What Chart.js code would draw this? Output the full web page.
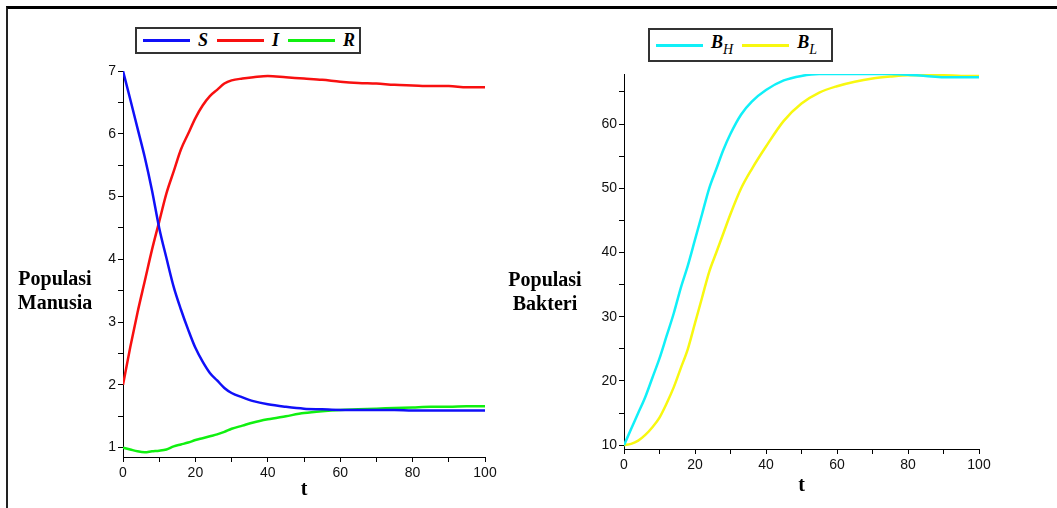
<!DOCTYPE html>
<html>
<head>
<meta charset="utf-8">
<script src="https://cdn.jsdelivr.net/npm/chart.js@4/dist/chart.umd.min.js"></script>
<style>
  body { margin: 0; background: #fff; width: 1057px; height: 508px; overflow: hidden; position: relative; }
  #frame { position: absolute; left: 6px; top: 6px; width: 1060px; height: 510px; border-top: 3px solid #000; border-left: 2px solid #222; }
  canvas { position: absolute; top: 0; }
  #left { left: 0; }
  #right { left: 495px; }
  .legend { position: absolute; border: 2px solid #333; background: #fff; display: flex; align-items: center;
            font: italic bold 18px "Liberation Serif", serif; box-sizing: border-box; padding-left: 6px; }
  .legend .item { display: flex; align-items: center; margin-right: 9px; }
  .legend .swatch { width: 47px; height: 3px; margin-right: 8px; }
  .legend sub { font-size: 14px; font-weight: normal; vertical-align: -6px; }
</style>
</head>
<body>
<div id="frame"></div>
<canvas id="left" width="510" height="508"></canvas>
<canvas id="right" width="562" height="508"></canvas>
<div class="legend" id="legendLeft" style="left:135px;top:27px;width:226px;height:27px;"></div>
<div class="legend" id="legendRight" style="left:648px;top:28px;width:185px;height:34px;"></div>
<script>
const tValues = [0, 2, 4, 6, 8, 10, 12, 14, 16, 18, 20, 22, 24, 26, 28, 30, 33, 36, 40, 45, 50, 55, 60, 65, 70, 75, 80, 85, 90, 95, 100]

// populasi manusia
const sValues = [7, 6.55, 6.09, 5.63, 5.1, 4.5, 4.02, 3.56, 3.2, 2.88, 2.59, 2.37, 2.19, 2.07, 1.95, 1.87, 1.8, 1.74, 1.69, 1.65, 1.62, 1.61, 1.6, 1.6, 1.6, 1.6, 1.59, 1.59, 1.59, 1.59, 1.59]
const iValues = [2.0, 2.6, 3.15, 3.65, 4.15, 4.6, 5.05, 5.4, 5.75, 6.0, 6.25, 6.45, 6.6, 6.7, 6.8, 6.85, 6.88, 6.9, 6.92, 6.9, 6.88, 6.86, 6.83, 6.81, 6.8, 6.78, 6.77, 6.76, 6.76, 6.74, 6.74]
const rValues = [1.0, 0.97, 0.94, 0.925, 0.94, 0.95, 0.97, 1.02, 1.05, 1.08, 1.12, 1.15, 1.18, 1.21, 1.25, 1.3, 1.35, 1.4, 1.45, 1.5, 1.55, 1.58, 1.6, 1.61, 1.62, 1.63, 1.64, 1.65, 1.65, 1.66, 1.66]

// populasi bakteri
const bhValues = [10, 12.5, 15, 17.5, 20.5, 23.5, 27, 30.5, 34.5, 38, 42, 46, 50, 53, 56, 58.5, 61.5, 63.5, 65.3, 66.8, 67.5, 67.8, 67.8, 67.8, 67.8, 67.8, 67.7, 67.5, 67.3, 67.3, 67.3]
const blValues = [10, 10.2, 10.7, 11.6, 12.8, 14.3, 16.5, 19, 22, 25, 29, 33, 37, 40, 43, 46, 50, 53, 56.5, 60.5, 63.2, 64.9, 65.9, 66.6, 67.1, 67.4, 67.6, 67.6, 67.6, 67.5, 67.5]

// tick positions (labelled + minor)
const xTicks = [0, 10, 20, 30, 40, 50, 60, 70, 80, 90, 100]
const xLabels = [0, 20, 40, 60, 80, 100]
const manusiaTicks = [1, 1.5, 2, 2.5, 3, 3.5, 4, 4.5, 5, 5.5, 6, 6.5, 7]
const manusiaLabels = [1, 2, 3, 4, 5, 6, 7]
const bakteriTicks = [10, 15, 20, 25, 30, 35, 40, 45, 50, 55, 60, 65]
const bakteriLabels = [10, 20, 30, 40, 50, 60]

const toPoints = vals => tValues.map((t, i) => ({ x: t, y: vals[i] }))

function line(label, vals, color){
    return {
        label,
        data: toPoints(vals),
        borderColor: color,
        backgroundColor: color,
        borderWidth: 2.5,
        pointRadius: 0,
        cubicInterpolationMode: 'monotone'
    }
}

// y-axis label drawn horizontally like the original
const sideLabel = {
    id: 'sideLabel',
    afterDraw(chart, args, opts){
        const ctx = chart.ctx
        ctx.save()
        ctx.font = 'bold 20px "Liberation Serif", serif'
        ctx.fillStyle = '#000'
        ctx.textAlign = 'center'
        ctx.textBaseline = 'middle'
        opts.lines.forEach((txt, i) => ctx.fillText(txt, opts.x, opts.y + i * 24))
        ctx.restore()
    }
}

function makeChart(id, datasets, cfg){
    const ctx = document.getElementById(id)
    return new Chart(ctx, {
        type: 'line',
        data: { datasets },
        options: {
            responsive: false,
            animation: false,
            layout: { padding: { left: 0, top: cfg.top, right: cfg.right, bottom: 0 } },
            scales: {
                x: {
                    type: 'linear',
                    min: 0, max: 100,
                    afterFit: s => { s.height = cfg.xHeight },
                    afterBuildTicks: s => { s.ticks = xTicks.map(value => ({ value })) },
                    border: { color: '#000', width: 1 },
                    grid: { drawOnChartArea: false, drawTicks: true, tickLength: 5, color: '#000' },
                    ticks: {
                        maxRotation: 0,
                        autoSkip: false,
                        padding: 3,
                        color: '#111',
                        font: { family: '"Liberation Sans", sans-serif', size: 14 },
                        callback: v => xLabels.includes(v) ? v : ''
                    },
                    title: {
                        display: true, text: 't', color: '#000',
                        font: { family: '"Liberation Serif", serif', size: 20, weight: 'bold' },
                        padding: { top: 0, bottom: cfg.titlePad }
                    }
                },
                y: {
                    min: cfg.yMin, max: cfg.yMax,
                    afterFit: s => { s.width = cfg.yWidth },
                    afterBuildTicks: s => { s.ticks = cfg.yTicks.map(value => ({ value })) },
                    border: { color: '#000', width: 1 },
                    grid: { drawOnChartArea: false, drawTicks: true, tickLength: 5, color: '#000' },
                    ticks: {
                        autoSkip: false,
                        padding: 2,
                        color: '#111',
                        font: { family: '"Liberation Sans", sans-serif', size: 14 },
                        callback: v => cfg.yLabels.includes(v) ? v : ''
                    }
                }
            },
            plugins: {
                legend: { display: false },
                tooltip: { enabled: false },
                sideLabel: cfg.label
            }
        },
        plugins: [sideLabel]
    })
}

function htmlLegend(chart, elId, labels){
    const box = document.getElementById(elId)
    chart.data.datasets.forEach((ds, i) => {
        const item = document.createElement('div')
        item.className = 'item'
        item.innerHTML = `<span class="swatch" style="background:${ds.borderColor}"></span><span>${labels[i]}</span>`
        box.appendChild(item)
    })
}

const leftChart = makeChart('left', [
    line('S', sValues, '#1010f8'),
    line('I', iValues, '#f81010'),
    line('R', rValues, '#10f010')
], {
    top: 71, right: 25, xHeight: 51, yWidth: 123, titlePad: 6,
    yMin: 0.85, yMax: 7, yTicks: manusiaTicks, yLabels: manusiaLabels,
    label: { lines: ['Populasi', 'Manusia'], x: 55, y: 280 }
})

const rightChart = makeChart('right', [
    line('BH', bhValues, '#10f0f8'),
    line('BL', blValues, '#f8f810')
], {
    top: 74, right: 78, xHeight: 59, yWidth: 129, titlePad: 10,
    yMin: 9.4, yMax: 67.8, yTicks: bakteriTicks, yLabels: bakteriLabels,
    label: { lines: ['Populasi', 'Bakteri'], x: 50, y: 281 }
})

htmlLegend(leftChart, 'legendLeft', ['S', 'I', 'R'])
htmlLegend(rightChart, 'legendRight', ['B<sub>H</sub>', 'B<sub>L</sub>'])
</script>
</body>
</html>
